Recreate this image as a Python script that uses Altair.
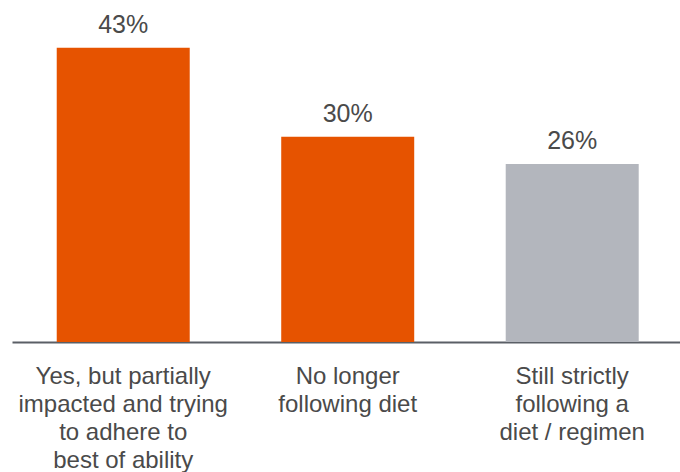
import altair as alt
import pandas as pd

categories = [
    "Yes, but partially|impacted and trying|to adhere to|best of ability",
    "No longer|following diet",
    "Still strictly|following a|diet / regimen",
]
values = [43, 30, 26]
labels = ["43%", "30%", "26%"]
colors = ["#E65300", "#E65300", "#B3B6BD"]

df = pd.DataFrame({"category": categories, "value": values, "label": labels, "color": colors})

x = alt.X(
    "category:N",
    sort=categories,
    scale=alt.Scale(paddingInner=0.4076, paddingOuter=0.1916, align=0.52),
    axis=alt.Axis(
        title=None,
        labelAngle=0,
        ticks=False,
        domainColor="#5A5F66",
        domainWidth=2,
        labelExpr="split(datum.label, '|')",
        labelFont="Liberation Sans",
        labelFontSize=24,
        labelColor="#4A4A4A",
        labelLineHeight=28,
        labelPadding=22,
        labelLimit=400,
    ),
)
y = alt.Y("value:Q", scale=alt.Scale(domain=[0, 45], nice=False), axis=None)

bars = alt.Chart(df).mark_bar().encode(x=x, y=y, color=alt.Color("color:N", scale=None))
text = alt.Chart(df).mark_text(
    baseline="alphabetic", dy=-15, font="Liberation Sans", fontSize=25, color="#4A4A4A"
).encode(x=x, y=y, text="label:N")

chart = (
    (bars + text)
    .properties(
        width=668,
        height=308,
        background="white",
        padding={"left": 12, "right": 0, "top": 34, "bottom": 130},
        autosize=alt.AutoSizeParams(type="none"),
    )
    .configure_view(stroke=None)
)

chart.save("out.html", embed_options={"renderer": "svg", "actions": False})
